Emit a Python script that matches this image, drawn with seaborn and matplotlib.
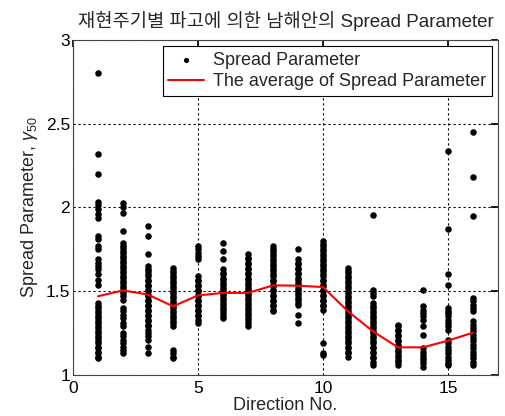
import numpy as np
import pandas as pd
import matplotlib
matplotlib.use("Agg")
import matplotlib.pyplot as plt
import seaborn as sns

directions = list(range(1, 17))

spread = {
    1: [2.80, 2.32, 2.20, 2.03, 2.015, 1.99, 1.96, 1.94, 1.83, 1.81, 1.77, 1.75, 1.69, 1.67, 1.65, 1.63,
        1.60, 1.57, 1.54, 1.43, 1.41, 1.40, 1.38, 1.37, 1.35, 1.34, 1.32, 1.31, 1.29, 1.28, 1.26, 1.25,
        1.23, 1.22, 1.20, 1.19, 1.17, 1.16, 1.14, 1.13, 1.11, 1.10],
    2: [2.025, 2.005, 1.97, 1.86, 1.79, 1.77, 1.76, 1.74, 1.73, 1.71, 1.70, 1.68, 1.67, 1.65, 1.64, 1.62,
        1.61, 1.59, 1.58, 1.56, 1.55, 1.53, 1.52, 1.50, 1.49, 1.47, 1.45, 1.40, 1.38, 1.36, 1.34, 1.31,
        1.29, 1.25, 1.23, 1.21, 1.19, 1.17, 1.15, 1.13],
    3: [1.89, 1.83, 1.72, 1.65, 1.63, 1.62, 1.60, 1.59, 1.57, 1.56, 1.54, 1.53, 1.51, 1.50, 1.48, 1.47,
        1.45, 1.44, 1.42, 1.41, 1.39, 1.38, 1.36, 1.35, 1.33, 1.32, 1.30, 1.29, 1.27, 1.25, 1.23, 1.21,
        1.17, 1.13],
    4: [1.64, 1.62, 1.61, 1.59, 1.58, 1.56, 1.55, 1.53, 1.52, 1.50, 1.49, 1.47, 1.46, 1.44, 1.43, 1.41,
        1.40, 1.38, 1.37, 1.35, 1.34, 1.32, 1.31, 1.29, 1.15, 1.13, 1.11, 1.10],
    5: [1.77, 1.75, 1.73, 1.71, 1.69, 1.59, 1.57, 1.56, 1.54, 1.53, 1.51, 1.50, 1.48, 1.47, 1.45, 1.44,
        1.42, 1.41, 1.39, 1.38, 1.36, 1.35, 1.33, 1.31],
    6: [1.79, 1.74, 1.69, 1.63, 1.61, 1.60, 1.58, 1.57, 1.55, 1.54, 1.52, 1.51, 1.49, 1.48, 1.46, 1.45,
        1.43, 1.42, 1.40, 1.39, 1.37, 1.35, 1.34],
    7: [1.72, 1.70, 1.69, 1.67, 1.66, 1.64, 1.63, 1.61, 1.60, 1.58, 1.57, 1.55, 1.54, 1.52, 1.51, 1.49,
        1.48, 1.46, 1.45, 1.43, 1.42, 1.40, 1.39, 1.37, 1.36, 1.34, 1.33, 1.31, 1.29],
    8: [1.77, 1.75, 1.74, 1.72, 1.71, 1.69, 1.68, 1.66, 1.65, 1.63, 1.62, 1.60, 1.59, 1.57, 1.56, 1.54,
        1.53, 1.51, 1.50, 1.48, 1.47, 1.45, 1.44, 1.42, 1.41, 1.39, 1.38],
    9: [1.75, 1.69, 1.67, 1.66, 1.64, 1.63, 1.61, 1.60, 1.58, 1.57, 1.55, 1.54, 1.52, 1.51, 1.49, 1.48,
        1.46, 1.45, 1.43, 1.42, 1.36, 1.31],
    10: [1.80, 1.78, 1.77, 1.75, 1.74, 1.72, 1.71, 1.69, 1.68, 1.66, 1.65, 1.63, 1.62, 1.60, 1.59, 1.57,
         1.56, 1.54, 1.53, 1.51, 1.50, 1.48, 1.47, 1.45, 1.44, 1.42, 1.41, 1.39, 1.19, 1.13, 1.12],
    11: [1.64, 1.62, 1.61, 1.59, 1.58, 1.56, 1.55, 1.53, 1.52, 1.50, 1.49, 1.47, 1.46, 1.44, 1.43, 1.41,
         1.40, 1.38, 1.37, 1.35, 1.34, 1.32, 1.31, 1.29, 1.28, 1.26, 1.25, 1.23, 1.22, 1.20, 1.19, 1.17,
         1.16, 1.14, 1.13, 1.11],
    12: [1.955, 1.51, 1.49, 1.47, 1.43, 1.41, 1.40, 1.38, 1.37, 1.35, 1.34, 1.32, 1.31, 1.29, 1.28, 1.26,
         1.25, 1.23, 1.22, 1.20, 1.19, 1.17, 1.16, 1.14, 1.13, 1.11, 1.10, 1.08, 1.06],
    13: [1.30, 1.29, 1.27, 1.26, 1.24, 1.23, 1.21, 1.20, 1.18, 1.17, 1.15, 1.14, 1.12, 1.11, 1.09, 1.08, 1.06],
    14: [1.51, 1.41, 1.39, 1.37, 1.35, 1.33, 1.29, 1.24, 1.16, 1.14, 1.12, 1.10, 1.09, 1.07, 1.05],
    15: [2.34, 1.87, 1.60, 1.54, 1.40, 1.38, 1.37, 1.35, 1.33, 1.31, 1.29, 1.27, 1.21, 1.19, 1.17, 1.15,
         1.13, 1.11, 1.09, 1.07, 1.06],
    16: [2.45, 2.18, 1.95, 1.46, 1.44, 1.42, 1.40, 1.38, 1.32, 1.30, 1.28, 1.26, 1.24, 1.22, 1.20, 1.18,
         1.16, 1.14, 1.12, 1.10, 1.08, 1.06],
}

average = [1.47, 1.505, 1.48, 1.41, 1.475, 1.49, 1.49, 1.535, 1.533, 1.525,
           1.38, 1.26, 1.165, 1.165, 1.205, 1.253]

title = "재현주기별 파고에 의한 남해안의 Spread Parameter"
xlabel = "Direction No."
ylabel = "Spread Parameter, $\\gamma_{50}$"
xticks = [0, 5, 10, 15]
yticks = [1, 1.5, 2, 2.5, 3]
yticklabels = ["1", "1.5", "2", "2.5", "3"]

pts = pd.DataFrame([(d, v) for d in directions for v in spread[d]], columns=["Direction", "Spread"])
avg = pd.DataFrame({"Direction": directions, "Average": average})

sns.set_theme(style="white")
plt.rcParams["font.family"] = ["Liberation Sans", "Noto Sans CJK KR", "DejaVu Sans"]
plt.rcParams["mathtext.fontset"] = "custom"
plt.rcParams["mathtext.rm"] = "Liberation Sans"
plt.rcParams["mathtext.it"] = "Liberation Sans:italic"

fig = plt.figure(figsize=(5.06, 4.16), dpi=100)
ax = fig.add_axes([0.1443, 0.0986, 0.8399, 0.8053])

sns.scatterplot(data=pts, x="Direction", y="Spread", ax=ax, color="black", s=22,
                marker="o", edgecolor="black", linewidth=0, label="Spread Parameter", zorder=3)
sns.lineplot(data=avg, x="Direction", y="Average", ax=ax, color="red", linewidth=1.5,
             label="The average of Spread Parameter", zorder=4)

ax.set_xlim(0, 17)
ax.set_ylim(1, 3)
ax.set_xticks(xticks)
ax.set_yticks(yticks)
ax.set_yticklabels(yticklabels)
ax.grid(True, color="black", linestyle=(0, (2, 2.5)), linewidth=0.8)
ax.set_axisbelow(True)
ax.tick_params(direction="in", top=True, right=True, length=5, labelsize=12.5, colors="black", pad=2)
ax.tick_params(axis="x", pad=4)
for s in ax.spines.values():
    s.set_color("#444444")
    s.set_linewidth(0.8)

ax.set_xlabel(xlabel, fontsize=13, labelpad=1)
ax.set_ylabel(ylabel, fontsize=13, labelpad=4)
ax.set_title(title, fontsize=13.5, family=["Liberation Sans", "Noto Sans CJK KR"], pad=9)

leg = ax.legend(loc="upper right", fontsize=13, frameon=True, fancybox=False,
                edgecolor="black", framealpha=1, borderpad=0.3, handlelength=2.0,
                labelspacing=0.25, borderaxespad=0.35, markerscale=0.8, handletextpad=0.5)
leg.get_frame().set_linewidth(0.8)

fig.savefig("out.png", dpi=100)
